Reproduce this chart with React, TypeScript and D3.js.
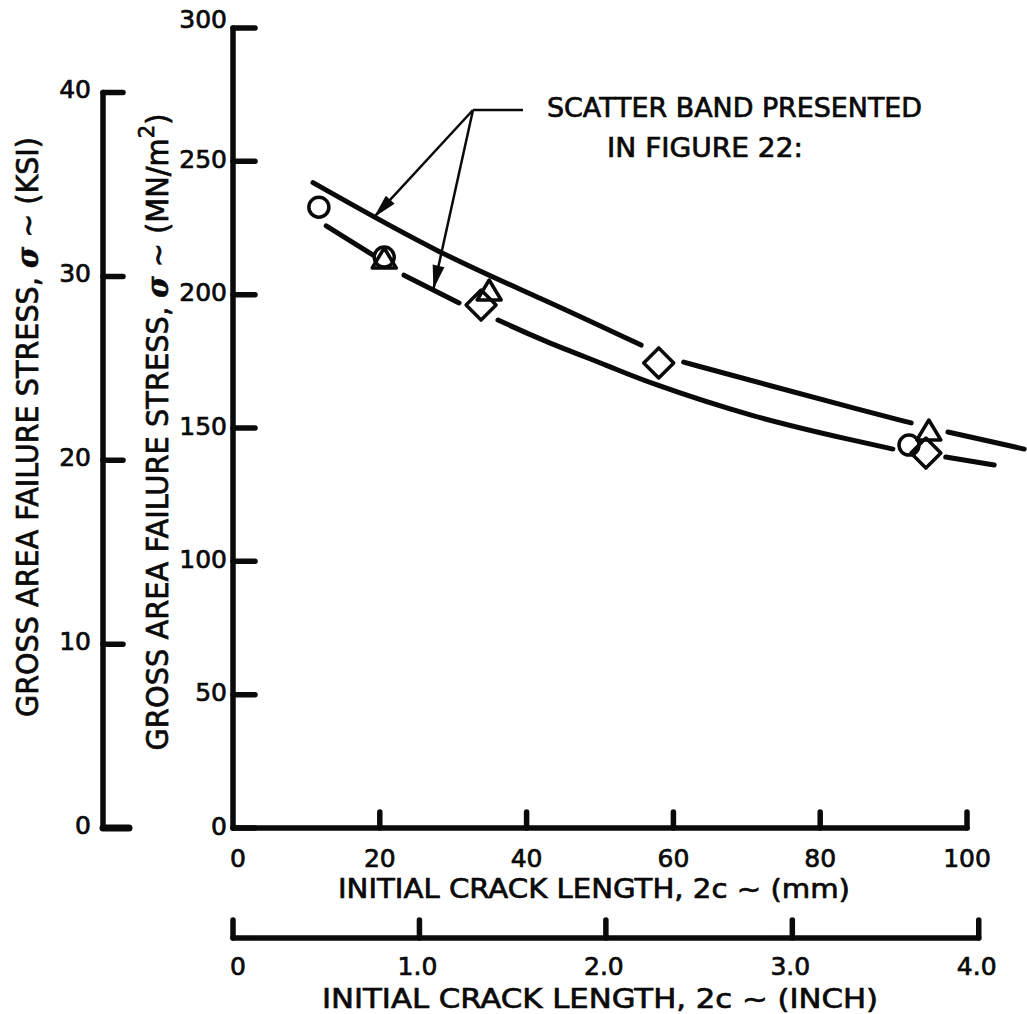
import React from 'react'
import * as d3 from 'd3'

const mmTicks = [0, 20, 40, 60, 80, 100]
const mpaTicks = [0, 50, 100, 150, 200, 250, 300]
const ksiTicks = [0, 10, 20, 30, 40]
const inchTicks = [0, 1, 2, 3, 4]
const inchLabels = ['0', '1.0', '2.0', '3.0', '4.0']

// test results: [initial crack length (mm), gross failure stress (MN/m^2)]
const circlePts = [[11.7, 232.8], [20.6, 214.1], [92.1, 143.6]]
const trianglePts = [[20.6, 213], [34.9, 201], [94.8, 148.5]]
const diamondPts = [[33.8, 196.1], [58.0, 174.4], [94.4, 140.6]]

// scatter band from figure 22, drawn in pieces (broken around the symbols)
const upperBand = [
  [[10.9, 242], [28.3, 215], [42, 198.7], [55.6, 181.1]],
  [[61.4, 174.7], [73.7, 165.5], [85.6, 156.7], [92.4, 151.9]],
  [[97.4, 148.5], [107.8, 142.1]],
]
const lowerBand = [
  [[12.7, 225.8], [19.1, 214.8]],
  [[23.3, 207.3], [30.8, 196.9]],
  [[36.1, 190.5], [42, 183], [51.9, 172.5], [55.6, 168], [70.6, 154.1], [85.6, 144.7], [89.9, 142.1]],
  [[97.1, 139.1], [103.7, 136.1]],
]
const arrowTips = [[19.2, 229], [27.3, 202]]

const KSI_TO_MPA = 6.894757
const INCH_TO_MM = 25.4
const font = '"DejaVu Sans", sans-serif'
const ink = '#0a0a0a'
const textInk = { fill: ink, stroke: ink, strokeWidth: 0.7 }

export default function App() {
  const x = d3.scaleLinear().domain([0, 100]).range([233, 967])
  const y = d3.scaleLinear().domain([0, 300]).range([828, 28])
  const ksiY = (k: number) => y(k * KSI_TO_MPA)
  const inchX = (i: number) => x(i * INCH_TO_MM)

  const line = d3
    .line<number[]>()
    .x(d => x(d[0]))
    .y(d => y(d[1]))
    .curve(d3.curveBasis)

  const ksiAxisX = 103
  const inchAxisY = 938
  const origin = [473, 110]

  const arrowHead = (tx: number, ty: number) => {
    const dx = tx - origin[0]
    const dy = ty - origin[1]
    const len = Math.sqrt(dx * dx + dy * dy)
    const ux = dx / len
    const uy = dy / len
    const bx = tx - ux * 24
    const by = ty - uy * 24
    return `M${tx},${ty}L${bx - uy * 6},${by + ux * 6}L${bx + uy * 6},${by - ux * 6}Z`
  }

  return (
    <svg
      width={1027}
      height={1014}
      style={{ position: 'absolute', left: 0, top: 0, background: '#fff' }}
      fontFamily={font}
    >
      <rect width={1027} height={1014} fill="#fff" />

      {/* KSI axis */}
      <g stroke={ink} strokeLinecap="round" fill="none">
        <line x1={ksiAxisX} y1={ksiY(40)} x2={ksiAxisX} y2={ksiY(0)} strokeWidth={5.5} />
        {ksiTicks.map(t => (
          <line key={t} x1={ksiAxisX} y1={ksiY(t)} x2={ksiAxisX + (t === 0 ? 26 : 20)} y2={ksiY(t)} strokeWidth={t === 0 ? 7 : 5.5} />
        ))}
      </g>
      {ksiTicks.map(t => (
        <text key={t} x={91} y={ksiY(t) - 3} fontSize={25} textAnchor="end" dominantBaseline="central" {...textInk}>
          {t}
        </text>
      ))}

      {/* MN/m^2 axis */}
      <g stroke={ink} strokeLinecap="round" fill="none">
        <line x1={x(0)} y1={y(300)} x2={x(0)} y2={y(0)} strokeWidth={5.5} />
        {mpaTicks.map(t => (
          <line key={t} x1={x(0)} y1={y(t)} x2={x(0) + 22} y2={y(t)} strokeWidth={5.5} />
        ))}
      </g>
      {mpaTicks.map(t => (
        <text key={t} x={227} y={y(t) - (t === 300 ? 9 : 2)} fontSize={25} textAnchor="end" dominantBaseline="central" {...textInk}>
          {t}
        </text>
      ))}

      {/* mm axis */}
      <g stroke={ink} strokeLinecap="round" fill="none">
        <line x1={x(0)} y1={y(0)} x2={x(100)} y2={y(0)} strokeWidth={5.5} />
        {mmTicks.slice(1).map(t => (
          <line key={t} x1={x(t)} y1={y(0)} x2={x(t)} y2={y(0) - 16} strokeWidth={5.5} />
        ))}
      </g>
      {mmTicks.map(t => (
        <text key={t} x={x(t) + (t === 0 ? 5 : 0)} y={858} fontSize={25} textAnchor="middle" dominantBaseline="central" {...textInk}>
          {t}
        </text>
      ))}
      <text x={594} y={898} fontSize={27} textAnchor="middle" textLength={512} lengthAdjust="spacingAndGlyphs" {...textInk}>
        INITIAL CRACK LENGTH, 2c ~ (mm)
      </text>

      {/* inch axis */}
      <g stroke={ink} strokeLinecap="round" fill="none">
        <line x1={inchX(0)} y1={inchAxisY} x2={inchX(4)} y2={inchAxisY} strokeWidth={5.5} />
        {inchTicks.map(t => (
          <line key={t} x1={inchX(t)} y1={inchAxisY} x2={inchX(t)} y2={inchAxisY - 18} strokeWidth={5.5} />
        ))}
      </g>
      {inchTicks.map((t, i) => (
        <text key={t} x={inchX(t) + (t === 0 ? 5 : -2)} y={966} fontSize={25} textAnchor="middle" dominantBaseline="central" {...textInk}>
          {inchLabels[i]}
        </text>
      ))}
      <text x={600} y={1008} fontSize={27} textAnchor="middle" textLength={556} lengthAdjust="spacingAndGlyphs" {...textInk}>
        INITIAL CRACK LENGTH, 2c ~ (INCH)
      </text>

      {/* axis titles */}
      <text transform="translate(38,427) rotate(-90)" fontSize={30} textAnchor="middle" textLength={580} lengthAdjust="spacingAndGlyphs" {...textInk}>
        GROSS AREA FAILURE STRESS, <tspan fontWeight="bold" fontStyle="italic" fontFamily="'DejaVu Serif', serif">σ</tspan> ~ (KSI)
      </text>
      <text transform="translate(168,432) rotate(-90)" fontSize={30} textAnchor="middle" textLength={637} lengthAdjust="spacingAndGlyphs" {...textInk}>
        GROSS AREA FAILURE STRESS, <tspan fontWeight="bold" fontStyle="italic" fontFamily="'DejaVu Serif', serif">σ</tspan> ~ (MN/m
        <tspan dy={-14} fontSize={22}>2</tspan>
        <tspan dy={14}>)</tspan>
      </text>

      {/* scatter band */}
      <g stroke={ink} strokeWidth={5} strokeLinecap="round" fill="none">
        {upperBand.map((seg, i) => (
          <path key={'u' + i} d={line(seg) || ''} />
        ))}
        {lowerBand.map((seg, i) => (
          <path key={'l' + i} d={line(seg) || ''} />
        ))}
      </g>

      {/* symbols */}
      <g stroke={ink} strokeWidth={3.5} fill="none" strokeLinejoin="round">
        {circlePts.map((d, i) => (
          <circle key={'c' + i} cx={x(d[0])} cy={y(d[1])} r={10} />
        ))}
        {trianglePts.map((d, i) => {
          const cx = x(d[0])
          const cy = y(d[1])
          return <path key={'t' + i} d={`M${cx},${cy - 12}L${cx + 12},${cy + 8}L${cx - 12},${cy + 8}Z`} />
        })}
        {diamondPts.map((d, i) => {
          const cx = x(d[0])
          const cy = y(d[1])
          return <path key={'d' + i} d={`M${cx},${cy - 15}L${cx + 15},${cy}L${cx},${cy + 15}L${cx - 15},${cy}Z`} />
        })}
      </g>

      {/* annotation */}
      <g stroke={ink} strokeWidth={2.5} fill="none">
        <line x1={origin[0]} y1={origin[1]} x2={523} y2={origin[1]} />
        {arrowTips.map((d, i) => (
          <line key={i} x1={origin[0]} y1={origin[1]} x2={x(d[0])} y2={y(d[1])} />
        ))}
      </g>
      {arrowTips.map((d, i) => (
        <path key={i} d={arrowHead(x(d[0]), y(d[1]))} fill={ink} />
      ))}
      <text x={547} y={117} fontSize={26} textLength={375} lengthAdjust="spacingAndGlyphs" {...textInk}>
        SCATTER BAND PRESENTED
      </text>
      <text x={607} y={157} fontSize={26} textLength={196} lengthAdjust="spacingAndGlyphs" {...textInk}>
        IN FIGURE 22:
      </text>
    </svg>
  )
}
